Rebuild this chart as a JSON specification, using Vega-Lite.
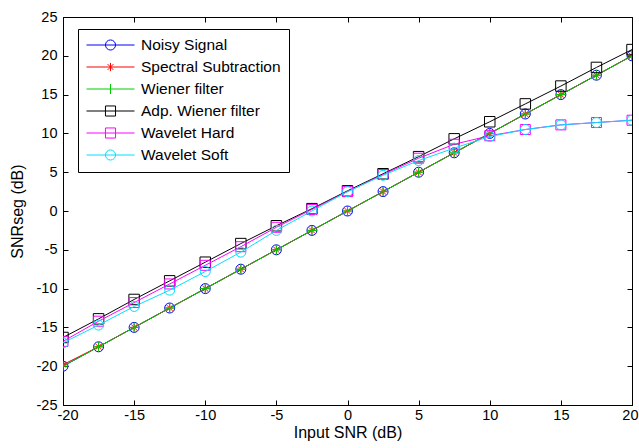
{
  "$schema": "https://vega.github.io/schema/vega-lite/v6.json",
  "width": 569,
  "height": 388,
  "autosize": {"type": "none"},
  "padding": {"left": 63, "top": 17, "right": 7, "bottom": 43},
  "background": "white",
  "config": {
    "view": {"stroke": "black", "strokeWidth": 1},
    "font": "Liberation Sans",
    "axis": {
      "domainColor": "black", "tickColor": "black", "tickSize": -5, "grid": false,
      "labelFont": "Liberation Sans", "labelFontSize": 14.5, "labelColor": "black", "labelPadding": 8,
      "labelFlush": false, "labelOverlap": false,
      "titleFont": "Liberation Sans", "titleFontSize": 16, "titleFontWeight": "normal", "titleColor": "black"
    },
    "legend": {
      "orient": "none", "legendX": 15, "legendY": 12, "padding": 8,
      "strokeColor": "black", "fillColor": "white", "cornerRadius": 0,
      "symbolSize": 2304, "symbolStrokeWidth": 1, "clipHeight": 16, "rowPadding": 5,
      "labelFont": "Liberation Sans", "labelFontSize": 15.5, "labelColor": "black", "labelOffset": 6, "labelLimit": 300
    }
  },
  "data": {"values": [
    {"snr": -20, "v": -20, "s": "Noisy Signal"}, {"snr": -17.5, "v": -17.5, "s": "Noisy Signal"}, {"snr": -15, "v": -15, "s": "Noisy Signal"}, {"snr": -12.5, "v": -12.5, "s": "Noisy Signal"}, {"snr": -10, "v": -10, "s": "Noisy Signal"}, {"snr": -7.5, "v": -7.5, "s": "Noisy Signal"}, {"snr": -5, "v": -5, "s": "Noisy Signal"}, {"snr": -2.5, "v": -2.5, "s": "Noisy Signal"}, {"snr": 0, "v": 0, "s": "Noisy Signal"}, {"snr": 2.5, "v": 2.5, "s": "Noisy Signal"}, {"snr": 5, "v": 5, "s": "Noisy Signal"}, {"snr": 7.5, "v": 7.5, "s": "Noisy Signal"}, {"snr": 10, "v": 10, "s": "Noisy Signal"}, {"snr": 12.5, "v": 12.5, "s": "Noisy Signal"}, {"snr": 15, "v": 15, "s": "Noisy Signal"}, {"snr": 17.5, "v": 17.5, "s": "Noisy Signal"}, {"snr": 20, "v": 20, "s": "Noisy Signal"},
    {"snr": -20, "v": -19.8, "s": "Spectral Subtraction"}, {"snr": -17.5, "v": -17.5, "s": "Spectral Subtraction"}, {"snr": -15, "v": -15, "s": "Spectral Subtraction"}, {"snr": -12.5, "v": -12.5, "s": "Spectral Subtraction"}, {"snr": -10, "v": -10, "s": "Spectral Subtraction"}, {"snr": -7.5, "v": -7.5, "s": "Spectral Subtraction"}, {"snr": -5, "v": -5, "s": "Spectral Subtraction"}, {"snr": -2.5, "v": -2.5, "s": "Spectral Subtraction"}, {"snr": 0, "v": 0, "s": "Spectral Subtraction"}, {"snr": 2.5, "v": 2.5, "s": "Spectral Subtraction"}, {"snr": 5, "v": 5, "s": "Spectral Subtraction"}, {"snr": 7.5, "v": 7.5, "s": "Spectral Subtraction"}, {"snr": 10, "v": 10, "s": "Spectral Subtraction"}, {"snr": 12.5, "v": 12.5, "s": "Spectral Subtraction"}, {"snr": 15, "v": 15, "s": "Spectral Subtraction"}, {"snr": 17.5, "v": 17.5, "s": "Spectral Subtraction"}, {"snr": 20, "v": 20, "s": "Spectral Subtraction"},
    {"snr": -20, "v": -20, "s": "Wiener filter"}, {"snr": -17.5, "v": -17.5, "s": "Wiener filter"}, {"snr": -15, "v": -15, "s": "Wiener filter"}, {"snr": -12.5, "v": -12.5, "s": "Wiener filter"}, {"snr": -10, "v": -10, "s": "Wiener filter"}, {"snr": -7.5, "v": -7.5, "s": "Wiener filter"}, {"snr": -5, "v": -5, "s": "Wiener filter"}, {"snr": -2.5, "v": -2.5, "s": "Wiener filter"}, {"snr": 0, "v": 0, "s": "Wiener filter"}, {"snr": 2.5, "v": 2.5, "s": "Wiener filter"}, {"snr": 5, "v": 5, "s": "Wiener filter"}, {"snr": 7.5, "v": 7.5, "s": "Wiener filter"}, {"snr": 10, "v": 10, "s": "Wiener filter"}, {"snr": 12.5, "v": 12.5, "s": "Wiener filter"}, {"snr": 15, "v": 15, "s": "Wiener filter"}, {"snr": 17.5, "v": 17.5, "s": "Wiener filter"}, {"snr": 20, "v": 20, "s": "Wiener filter"},
    {"snr": -20, "v": -16.3, "s": "Adp. Wiener filter"}, {"snr": -17.5, "v": -13.9, "s": "Adp. Wiener filter"}, {"snr": -15, "v": -11.4, "s": "Adp. Wiener filter"}, {"snr": -12.5, "v": -9.0, "s": "Adp. Wiener filter"}, {"snr": -10, "v": -6.6, "s": "Adp. Wiener filter"}, {"snr": -7.5, "v": -4.2, "s": "Adp. Wiener filter"}, {"snr": -5, "v": -1.9, "s": "Adp. Wiener filter"}, {"snr": -2.5, "v": 0.3, "s": "Adp. Wiener filter"}, {"snr": 0, "v": 2.6, "s": "Adp. Wiener filter"}, {"snr": 2.5, "v": 4.8, "s": "Adp. Wiener filter"}, {"snr": 5, "v": 7.0, "s": "Adp. Wiener filter"}, {"snr": 7.5, "v": 9.3, "s": "Adp. Wiener filter"}, {"snr": 10, "v": 11.5, "s": "Adp. Wiener filter"}, {"snr": 12.5, "v": 13.8, "s": "Adp. Wiener filter"}, {"snr": 15, "v": 16.1, "s": "Adp. Wiener filter"}, {"snr": 17.5, "v": 18.5, "s": "Adp. Wiener filter"}, {"snr": 20, "v": 20.8, "s": "Adp. Wiener filter"},
    {"snr": -20, "v": -16.8, "s": "Wavelet Hard"}, {"snr": -17.5, "v": -14.2, "s": "Wavelet Hard"}, {"snr": -15, "v": -11.8, "s": "Wavelet Hard"}, {"snr": -12.5, "v": -9.4, "s": "Wavelet Hard"}, {"snr": -10, "v": -7.0, "s": "Wavelet Hard"}, {"snr": -7.5, "v": -4.6, "s": "Wavelet Hard"}, {"snr": -5, "v": -2.1, "s": "Wavelet Hard"}, {"snr": -2.5, "v": 0.2, "s": "Wavelet Hard"}, {"snr": 0, "v": 2.5, "s": "Wavelet Hard"}, {"snr": 2.5, "v": 4.7, "s": "Wavelet Hard"}, {"snr": 5, "v": 6.8, "s": "Wavelet Hard"}, {"snr": 7.5, "v": 8.6, "s": "Wavelet Hard"}, {"snr": 10, "v": 9.7, "s": "Wavelet Hard"}, {"snr": 12.5, "v": 10.5, "s": "Wavelet Hard"}, {"snr": 15, "v": 11.1, "s": "Wavelet Hard"}, {"snr": 17.5, "v": 11.4, "s": "Wavelet Hard"}, {"snr": 20, "v": 11.7, "s": "Wavelet Hard"},
    {"snr": -20, "v": -17.0, "s": "Wavelet Soft"}, {"snr": -17.5, "v": -14.7, "s": "Wavelet Soft"}, {"snr": -15, "v": -12.3, "s": "Wavelet Soft"}, {"snr": -12.5, "v": -10.2, "s": "Wavelet Soft"}, {"snr": -10, "v": -7.8, "s": "Wavelet Soft"}, {"snr": -7.5, "v": -5.3, "s": "Wavelet Soft"}, {"snr": -5, "v": -2.5, "s": "Wavelet Soft"}, {"snr": -2.5, "v": 0.0, "s": "Wavelet Soft"}, {"snr": 0, "v": 2.5, "s": "Wavelet Soft"}, {"snr": 2.5, "v": 4.6, "s": "Wavelet Soft"}, {"snr": 5, "v": 6.5, "s": "Wavelet Soft"}, {"snr": 7.5, "v": 8.1, "s": "Wavelet Soft"}, {"snr": 10, "v": 9.6, "s": "Wavelet Soft"}, {"snr": 12.5, "v": 10.5, "s": "Wavelet Soft"}, {"snr": 15, "v": 11.1, "s": "Wavelet Soft"}, {"snr": 17.5, "v": 11.4, "s": "Wavelet Soft"}, {"snr": 20, "v": 11.7, "s": "Wavelet Soft"}
  ]},
  "resolve": {"axis": {"x": "independent", "y": "independent"}},
  "encoding": {
    "x": {"field": "snr", "type": "quantitative", "scale": {"domain": [-20, 20], "nice": false, "zero": false}, "axis": null},
    "y": {"field": "v", "type": "quantitative", "scale": {"domain": [-25, 25], "nice": false, "zero": false}, "axis": null},
    "color": {"field": "s", "type": "nominal",
      "scale": {"domain": ["Noisy Signal", "Spectral Subtraction", "Wiener filter", "Adp. Wiener filter", "Wavelet Hard", "Wavelet Soft"],
                "range": ["#0000ff", "#ff0000", "#00cc00", "#000000", "#ff00ff", "#00e0ff"]},
      "legend": {"title": null,
        "encode": {"symbols": {"update": {
          "shape": {"signal": "datum.value == 'Noisy Signal' || datum.value == 'Wavelet Soft' ? 'M-1,0H1M0.21,0A0.21,0.21 0 1,1 -0.21,0A0.21,0.21 0 1,1 0.21,0' : datum.value == 'Spectral Subtraction' ? 'M-1,0H1M0,-0.17V0.17M-0.12,-0.12L0.12,0.12M-0.12,0.12L0.12,-0.12' : datum.value == 'Wiener filter' ? 'M-1,0H1M0,-0.21V0.21' : 'M-1,0H1M-0.21,-0.21H0.21V0.21H-0.21Z'"},
          "fill": {"value": "transparent"},
          "strokeWidth": {"value": 1}
        }}}
      }
    }
  },
  "layer": [
    {
      "transform": [{"filter": {"field": "s", "equal": "Noisy Signal"}}],
      "mark": {"type": "line", "strokeWidth": 1, "clip": true, "point": {"shape": "M1,0A1,1 0 1,1 -1,0A1,1 0 1,1 1,0", "filled": false, "size": 100, "strokeWidth": 1}},
      "encoding": {
        "x": {"field": "snr", "type": "quantitative",
              "axis": {"orient": "bottom", "values": [-20, -15, -10, -5, 0, 5, 10, 15, 20], "title": "Input SNR (dB)", "labelExpr": "'' + datum.value", "titlePadding": 3, "labelFlush": true, "labelFlushOffset": 6}},
        "y": {"field": "v", "type": "quantitative",
              "axis": {"orient": "left", "values": [-25, -20, -15, -10, -5, 0, 5, 10, 15, 20, 25], "title": "SNRseg (dB)", "labelExpr": "'' + datum.value", "labelPadding": 11, "titlePadding": 11}}
      }
    },
    {
      "transform": [{"filter": {"field": "s", "equal": "Spectral Subtraction"}}],
      "mark": {"type": "line", "strokeWidth": 1, "clip": true, "point": {"shape": "M-0.8,0H0.8M0,-0.8V0.8M-0.57,-0.57L0.57,0.57M-0.57,0.57L0.57,-0.57", "filled": false, "size": 100, "strokeWidth": 1}}
    },
    {
      "transform": [{"filter": {"field": "s", "equal": "Wiener filter"}}],
      "mark": {"type": "line", "strokeWidth": 1, "clip": true, "point": {"shape": "M-1,0H1M0,-1V1", "filled": false, "size": 100, "strokeWidth": 1}}
    },
    {
      "transform": [{"filter": {"field": "s", "equal": "Adp. Wiener filter"}}],
      "mark": {"type": "line", "strokeWidth": 1, "clip": true, "point": {"shape": "M-1,-1H1V1H-1Z", "filled": false, "size": 110, "strokeWidth": 1}}
    },
    {
      "transform": [{"filter": {"field": "s", "equal": "Wavelet Hard"}}],
      "mark": {"type": "line", "strokeWidth": 1, "clip": true, "point": {"shape": "M-1,-1H1V1H-1Z", "filled": false, "size": 100, "strokeWidth": 1}}
    },
    {
      "transform": [{"filter": {"field": "s", "equal": "Wavelet Soft"}}],
      "mark": {"type": "line", "strokeWidth": 1, "clip": true, "point": {"shape": "M1,0A1,1 0 1,1 -1,0A1,1 0 1,1 1,0", "filled": false, "size": 100, "strokeWidth": 1}}
    },
    {
      "mark": {"type": "point", "opacity": 0},
      "encoding": {
        "color": {"value": "white"},
        "x": {"field": "snr", "type": "quantitative", "axis": {"orient": "top", "values": [-20, -15, -10, -5, 0, 5, 10, 15, 20], "labels": false, "title": null}},
        "y": {"field": "v", "type": "quantitative", "axis": {"orient": "right", "values": [-25, -20, -15, -10, -5, 0, 5, 10, 15, 20, 25], "labels": false, "title": null}}
      }
    }
  ]
}
